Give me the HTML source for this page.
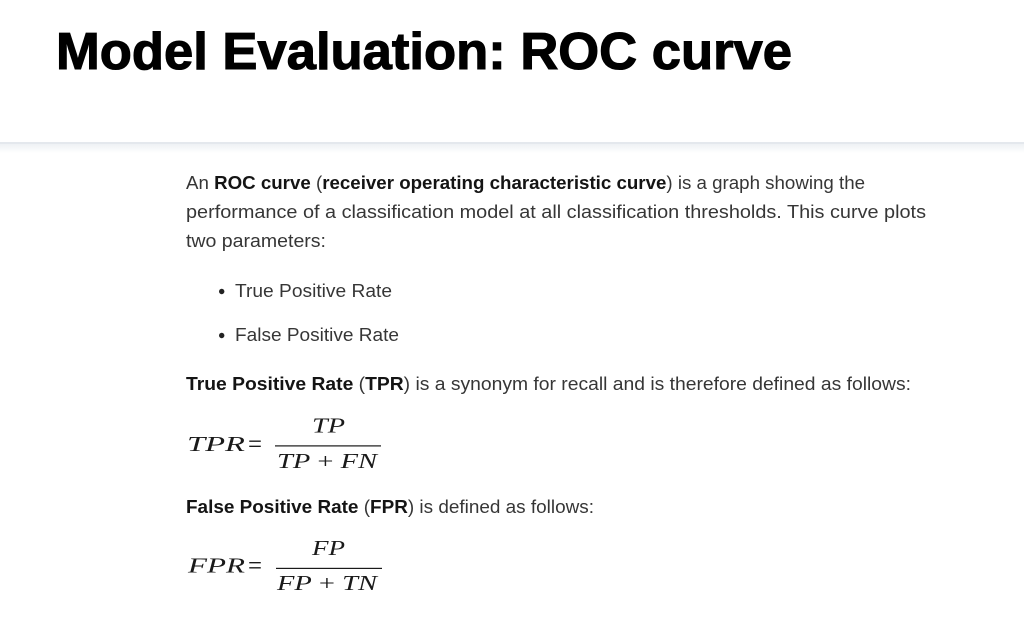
<!DOCTYPE html>
<html>
<head>
<meta charset="utf-8">
<style>
  html, body { margin: 0; padding: 0; background: #ffffff; }
  body { width: 1024px; height: 633px; overflow: hidden; }
  svg { display: block; }
  .t { font-family: "Liberation Sans", Arial, sans-serif; font-size: 18px; fill: #363636; }
  .b { font-weight: bold; fill: #141414; }
  .m { font-family: "Liberation Serif", "Times New Roman", serif; font-size: 21.5px; fill: #1a1a1a; }
  .i { font-style: italic; }
  .eq { font-family: "Liberation Serif", "Times New Roman", serif; font-size: 26px; fill: #1a1a1a; }
</style>
</head>
<body>
<svg width="1024" height="633" viewBox="0 0 1024 633" xmlns="http://www.w3.org/2000/svg">
  <defs>
    <linearGradient id="sh" x1="0" y1="0" x2="0" y2="1">
      <stop offset="0" stop-color="#eef1f4"/>
      <stop offset="1" stop-color="#ffffff"/>
    </linearGradient>
  </defs>
  <rect x="0" y="0" width="1024" height="633" fill="#ffffff"/>

  <!-- Title -->
  <text x="56" y="69" font-family="Liberation Sans, Arial, sans-serif" font-weight="bold" font-size="52" fill="#000" stroke="#000" stroke-width="1.1" textLength="736" lengthAdjust="spacingAndGlyphs">Model Evaluation: ROC curve</text>

  <!-- header separator -->
  <rect x="0" y="142" width="1024" height="2" fill="#e4e8ed"/>
  <rect x="0" y="144" width="1024" height="9" fill="url(#sh)"/>

  <!-- paragraph -->
  <text class="t" x="186" y="189" textLength="679" lengthAdjust="spacingAndGlyphs">An <tspan class="b">ROC curve</tspan> (<tspan class="b">receiver operating characteristic curve</tspan>) is a graph showing the</text>
  <text class="t" x="186" y="218" textLength="740" lengthAdjust="spacingAndGlyphs">performance of a classification model at all classification thresholds. This curve plots</text>
  <text class="t" x="186" y="247" textLength="140" lengthAdjust="spacingAndGlyphs">two parameters:</text>

  <!-- bullets -->
  <circle cx="221.7" cy="291.5" r="2.7" fill="#222"/>
  <text class="t" x="235" y="297" textLength="157" lengthAdjust="spacingAndGlyphs">True Positive Rate</text>
  <circle cx="221.7" cy="335.5" r="2.7" fill="#222"/>
  <text class="t" x="235" y="341" textLength="164" lengthAdjust="spacingAndGlyphs">False Positive Rate</text>

  <!-- TPR line -->
  <text class="t" x="186" y="390" textLength="725" lengthAdjust="spacingAndGlyphs"><tspan class="b">True Positive Rate</tspan> (<tspan class="b">TPR</tspan>) is a synonym for recall and is therefore defined as follows:</text>

  <!-- TPR formula -->
  <text class="m i" x="187" y="451" textLength="58" lengthAdjust="spacingAndGlyphs">TPR</text>
  <text class="eq" x="248" y="452.5" textLength="14" lengthAdjust="spacingAndGlyphs">=</text>
  <text class="m i" x="312" y="432.5" textLength="33" lengthAdjust="spacingAndGlyphs">TP</text>
  <rect x="275" y="445.3" width="106" height="1.2" fill="#1a1a1a"/>
  <text class="m" x="277" y="468" textLength="100" lengthAdjust="spacingAndGlyphs"><tspan class="i">TP</tspan> + <tspan class="i">FN</tspan></text>

  <!-- FPR line -->
  <text class="t" x="186" y="513" textLength="408" lengthAdjust="spacingAndGlyphs"><tspan class="b">False Positive Rate</tspan> (<tspan class="b">FPR</tspan>) is defined as follows:</text>

  <!-- FPR formula -->
  <text class="m i" x="188" y="572.5" textLength="57" lengthAdjust="spacingAndGlyphs">FPR</text>
  <text class="eq" x="248" y="574" textLength="14" lengthAdjust="spacingAndGlyphs">=</text>
  <text class="m i" x="312" y="555" textLength="33" lengthAdjust="spacingAndGlyphs">FP</text>
  <rect x="276" y="567.8" width="106" height="1.2" fill="#1a1a1a"/>
  <text class="m" x="277" y="590" textLength="100" lengthAdjust="spacingAndGlyphs"><tspan class="i">FP</tspan> + <tspan class="i">TN</tspan></text>
</svg>
</body>
</html>
